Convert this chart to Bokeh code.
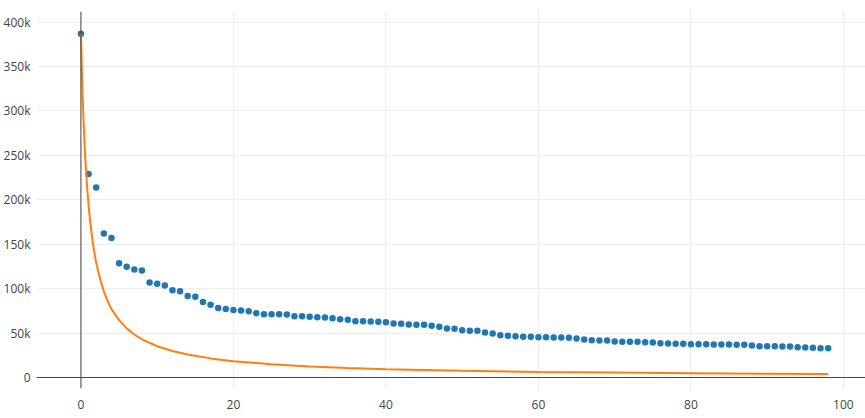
from bokeh.plotting import figure
from bokeh.models import Range1d, FixedTicker, Span
from bokeh.embed import file_html
from bokeh.resources import INLINE

# --- data ---
epochs = list(range(99))
observed = [
    387000, 229000, 214000, 162000, 157000, 128500, 124600, 121600, 120500, 107000,
    105500, 103600, 98300, 97200, 91800, 91000, 85000, 82000, 78200, 77000,
    76000, 75400, 74700, 72400, 71300, 71300, 71300, 70900, 69000, 69000,
    68300, 67900, 67600, 66800, 65600, 65000, 63400, 63400, 63100, 62700,
    62300, 60800, 60500, 59700, 59500, 59300, 58200, 57100, 55200, 54800,
    53300, 52600, 52600, 50700, 49500, 47600, 47000, 46500, 45800, 45800,
    45400, 45400, 45000, 45000, 44700, 43900, 42800, 42000, 41700, 41700,
    40500, 40200, 40200, 40200, 39800, 39400, 38600, 38300, 37900, 37900,
    37500, 37500, 37500, 37200, 37200, 37200, 36800, 36800, 36000, 35200,
    35200, 35200, 34900, 34900, 34100, 33800, 33400, 33000, 33000,
]
fit_x = [0, 0.1, 0.2, 0.3, 0.45, 0.6, 0.8, 1, 1.25, 1.5, 1.75, 2, 2.5, 3, 3.5, 4, 5, 6,
         7, 8, 10, 12, 14, 17, 20, 25, 30, 35, 40, 50, 60, 70, 80, 90, 98]
fit_y = [387000, 352000, 322000, 298000, 267000, 242000, 215000, 194000, 172000, 155000,
         141000, 129000, 111000, 97000, 86000, 77000, 64500, 55300, 48400, 43000,
         35200, 29800, 25800, 21500, 18400, 14900, 12500, 10800, 9400, 7600,
         6300, 5500, 4800, 4300, 3900]

x_ticks = [0, 20, 40, 60, 80, 100]
y_ticks = [0, 50000, 100000, 150000, 200000, 250000, 300000, 350000, 400000]
y_tick_labels = ["0", "50k", "100k", "150k", "200k", "250k", "300k", "350k", "400k"]

FONT = "Open Sans"
TXT = "#444444"

p = figure(width=865, height=411, output_backend="svg", toolbar_location=None,
           x_range=Range1d(-5.83, 102.9), y_range=Range1d(-12400, 412000),
           min_border_left=0, min_border_right=0, min_border_top=11, min_border_bottom=0)
p.outline_line_color = None
p.background_fill_color = "white"
p.border_fill_color = "white"

for ax in (p.xaxis[0], p.yaxis[0]):
    ax.axis_line_color = None
    ax.major_tick_line_color = None
    ax.minor_tick_line_color = None
    ax.major_label_text_font = FONT
    ax.major_label_text_font_size = "12px"
    ax.major_label_text_color = TXT
p.xaxis[0].ticker = FixedTicker(ticks=x_ticks)
p.xaxis[0].major_label_standoff = 5
p.yaxis[0].ticker = FixedTicker(ticks=y_ticks)
p.yaxis[0].major_label_overrides = {t: l for t, l in zip(y_ticks, y_tick_labels)}
p.yaxis[0].major_label_standoff = 0

p.xgrid[0].grid_line_color = "#eeeeee"
p.ygrid[0].grid_line_color = "#eeeeee"
p.xgrid[0].grid_line_width = 1
p.ygrid[0].grid_line_width = 1

p.add_layout(Span(location=0, dimension="width", line_color="#444444", line_width=1))
p.add_layout(Span(location=0, dimension="height", line_color="#444444", line_width=1))

p.scatter(epochs, observed, size=6.5, color="#1f77b4", line_color=None)
p.line(fit_x, fit_y, line_color="#ff7f0e", line_width=2)

open("out.html", "w").write(file_html(p, INLINE))
